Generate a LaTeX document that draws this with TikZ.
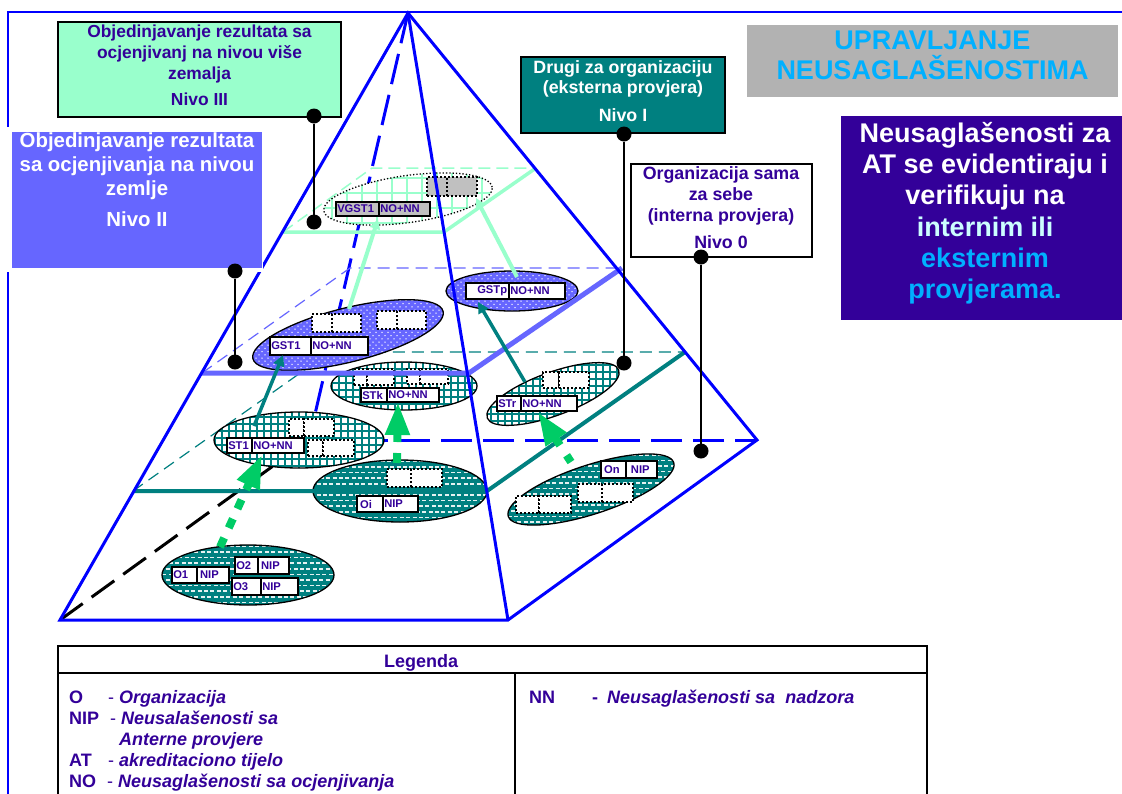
\documentclass[tikz,border=0pt]{standalone}
\usepackage{fontspec}
\setmainfont{Liberation Sans}
\usetikzlibrary{shapes.geometric,arrows.meta}
\definecolor{pblue}{HTML}{0000FF}
\definecolor{ink}{HTML}{330099}
\definecolor{tealc}{HTML}{008080}
\definecolor{mint}{HTML}{99FFCC}
\definecolor{lav}{HTML}{6666FF}
\definecolor{grn}{HTML}{00CC66}
\definecolor{sky}{HTML}{00B0FF}
\definecolor{pale}{HTML}{CCFFFF}
\definecolor{gry}{HTML}{B2B2B2}
\definecolor{cellgry}{HTML}{C0C0C0}
\newcommand{\fs}[2]{\fontsize{#1pt}{#2pt}\selectfont\bfseries}
\newcommand{\patgrid}{\fill[white] (\xa,\ya) rectangle (\xb,\yb);
  \foreach \u in {\xa,\xc,...,\xb} \draw[tealc,line width=2.3pt] (\u,\ya)--(\u,\yb);
  \foreach \v in {\ya,\yc,...,\yb} \draw[tealc,line width=2.3pt] (\xa,\v)--(\xb,\v);}
\newcommand{\patmint}{\fill[white] (\xa,\ya) rectangle (\xb,\yb);
  \foreach \u in {\xa,\xd,...,\xb} \draw[mint,line width=1.2pt] (\u,\ya)--(\u,\yb);
  \foreach \v in {\ya,\yd,...,\yb} \draw[mint,line width=1.2pt] (\xa,\v)--(\xb,\v);}
\newcommand{\patspot}{\fill[tealc] (\xa,\ya) rectangle (\xb,\yb);
  \foreach \v [count=\k] in {\ya,\ye,...,\yb}{\pgfmathsetmacro\ph{mod(\k,2)*3.2}
    \draw[white!90!tealc,line width=1.7pt,dash pattern=on 4pt off 2.4pt,dash phase=\ph pt] (\xa,\v)--(\xb,\v);}}
\newcommand{\patdot}{\fill[lav] (\xa,\ya) rectangle (\xb,\yb);
  \foreach \v [count=\k] in {\ya,\yf,...,\yb}{\pgfmathsetmacro\ph{mod(\k,2)*3}
    \draw[white,line width=1.5pt,line cap=round,dash pattern=on 0pt off 6pt,dash phase=\ph pt] (\xa,\v)--(\xb,\v);}}
\newcommand{\bubble}[8][bubblestyle]{%
  \begin{scope}
    \clip[rotate around={#7:(#3,#4)}] (#3,#4) ellipse [x radius=#5,y radius=#6];
    \pgfmathtruncatemacro\xa{#3-#5-6}\pgfmathtruncatemacro\xb{#3+#5+6}
    \pgfmathtruncatemacro\ya{#4-#5/2-8}\pgfmathtruncatemacro\yb{#4+#5/2+8}
    \pgfmathtruncatemacro\xc{\xa+7}\pgfmathtruncatemacro\yc{\ya+7}
    \pgfmathtruncatemacro\xd{\xa+15}\pgfmathtruncatemacro\yd{\ya+15}
    \pgfmathsetmacro\ye{\ya+5.6}\pgfmathsetmacro\yf{\ya+3.2}
    #8
  \end{scope}
  \node[#1,minimum width=2*#5*1pt,minimum height=2*#6*1pt,rotate=#7] (#2) at (#3,#4) {};}
\newcommand{\cellbox}[7]{% style name x1 x2 y1 y2 text
  \pgfmathsetmacro\cw{#4-#3}\pgfmathsetmacro\ch{#6-#5}\pgfmathsetmacro\ct{#4-#3-2.5}
  \node[#1,minimum width=\cw pt,minimum height=\ch pt] (#2) at (#3,#5) {\makebox[\ct pt][l]{#7}};}
\newcommand{\dual}[9]{% style name x1 xm x2 y1 y2 t1 t2
  \cellbox{#1}{#2l}{#3}{#4}{#6}{#7}{#8}\cellbox{#1}{#2r}{#4}{#5}{#6}{#7}{#9}}
\tikzset{
  bubblestyle/.style={ellipse,draw=black,line width=1.3pt,inner sep=0pt,outer sep=0pt},
  dotbubble/.style={ellipse,draw=black,line width=1.3pt,inner sep=0pt,outer sep=0pt,dash pattern=on 1.3pt off 2pt},
  cell/.style={rectangle,draw=black,line width=1.3pt,fill=white,text=ink,anchor=north west,inner xsep=1pt,inner ysep=0pt,outer sep=0pt,font=\fs{11.2}{12}},
  graycell/.style={cell,fill=cellgry},
  blank/.style={cell,dash pattern=on 2pt off 2pt,line width=1.5pt},
  graydot/.style={blank,fill=cellgry},
  edge/.style={pblue,line width=3pt},
  backedge/.style={pblue,line width=3pt,dash pattern=on 31pt off 11pt},
  blackedge/.style={black,line width=3pt,dash pattern=on 28pt off 11pt},
  tealsolid/.style={tealc,line width=4pt},
  lavsolid/.style={lav,line width=5pt},
  mintsolid/.style={mint,line width=3.5pt},
  tealdash/.style={tealc,line width=1.2pt,dash pattern=on 12pt off 7pt},
  lavdash/.style={lav,line width=1.2pt,dash pattern=on 12pt off 7pt},
  mintdash/.style={mint,line width=1.5pt,dash pattern=on 12pt off 6pt},
  tealarrow/.style={tealc,line width=3.5pt,-{Triangle[length=11pt,width=11pt]}},
  mintarrow/.style={mint,line width=4pt,-{Triangle[length=10pt,width=10pt]}},
  greenarrow/.style={grn,line width=8pt,dash pattern=on 10pt off 11pt,-{Triangle[length=33pt,width=23pt]}},
  dotc/.style={circle,fill=black,inner sep=0pt,minimum size=15pt,outer sep=0pt},
  stem/.style={black,line width=1.6pt},
  callout/.style={rectangle,anchor=north west,outer sep=0pt,inner sep=0pt},
  calltext/.style={anchor=north,align=center,inner sep=0pt},
  legl/.style={anchor=base west,inner sep=0pt,text=ink,font=\fs{18}{20}},
  legt/.style={anchor=base west,inner sep=0pt,text=ink,font=\fs{18}{20}\itshape},
  legline/.style={black,line width=1.5pt}
}
\begin{document}
\begin{tikzpicture}[x=1pt,y=-1pt]
\useasboundingbox (0,0) rectangle (1122,793);
\clip (0,0) rectangle (1122,793);
\fill[white] (0,0) rectangle (1122,793);
% frame
\coordinate (fa) at (8,800);\coordinate (fb) at (8,12);\coordinate (fc) at (1122,12);
\draw[pblue,line width=1.5pt] (fa)--(fb)--(fc);
% pyramid corners
\coordinate (apex) at (408,13);\coordinate (bl) at (60,620);\coordinate (bf) at (508,620);
\coordinate (br) at (757,440);\coordinate (bb) at (309,440);
\draw[blackedge] (bl)--(bb);
\draw[backedge] (apex)--(bb);
\draw[backedge,dash phase=9pt] (br)--(bb);
% level planes, back edges
\coordinate (t1) at (133,491);\coordinate (t2) at (487,491);\coordinate (t3) at (685,352);\coordinate (t4) at (330,352);
\coordinate (l1) at (202,373);\coordinate (l2) at (469,373);\coordinate (l3) at (622,268);\coordinate (l4) at (350,268);
\coordinate (m1) at (283,232);\coordinate (m2) at (444,232);\coordinate (m3) at (536,168);\coordinate (m4) at (372,168);
\draw[tealdash] (t1)--(t4)--(t3);
\draw[lavdash] (l1)--(l4)--(l3);
\draw[mintdash] (m1)--(m4)--(m3);
\draw[mintsolid] (m1)--(m2)--(m3);
% level III bubble
\bubble[dotbubble]{vg}{408}{199}{85}{23.5}{8}{\patmint}
\dual{graydot}{vgd}{427}{447}{477}{177}{196}{}{}
\dual{graycell}{vgst}{336}{379}{430}{202}{216}{VGST1}{NO+NN}
% level II bubbles
\bubble{gst}{348}{335}{98}{27}{14}{\patdot}
\dual{blank}{gd1}{312}{332}{361}{314}{332}{}{}
\dual{blank}{gd2}{377}{397}{426}{311}{329}{}{}
\dual{cell}{gst1}{270}{311}{368}{337}{355}{GST1}{NO+NN}
\bubble{gp}{512}{291}{66}{20}{0}{\patdot}
\dual{cell}{gstp}{466}{509}{565}{283}{299}{\hspace*{10pt}GSTp}{NO+NN}
% level I bubbles
\bubble{sk}{404}{386}{73}{24}{0}{\patgrid}
\dual{blank}{sd1}{354}{367}{394}{369}{385}{}{}
\dual{blank}{sd2}{407}{420}{448}{369}{384}{}{}
\dual{cell}{stk}{361}{387}{439}{388}{402}{STk}{NO+NN}
\bubble{s1}{299}{440}{85}{28}{0}{\patgrid}
\dual{blank}{td1}{289}{304}{334}{419}{436}{}{}
\dual{blank}{td2}{308}{323}{354}{440}{456}{}{}
\dual{cell}{st1}{227}{252}{304}{438}{453}{ST1}{NO+NN}
\bubble{sr}{553}{394}{70}{21.6}{20}{\patgrid}
\dual{blank}{rd1}{543}{559}{589}{372}{388}{}{}
\dual{cell}{str}{497}{521}{577}{396}{411}{STr}{NO+NN}
% level 0 bubbles
\bubble{ob}{248}{575}{86}{30}{0}{\patspot}
\dual{cell}{o1}{172}{197}{229}{567}{583}{O1}{\,NIP}
\dual{cell}{o2}{235}{258}{289}{557}{574}{O2}{\,NIP}
\dual{cell}{o3}{232}{261}{298}{578}{595}{O3}{NIP}
\bubble{oi}{400}{491}{87}{31}{0}{\patspot}
\dual{blank}{id1}{387}{411}{442}{469}{487}{}{}
\dual{cell}{oin}{357}{383}{418}{496}{512}{\,Oi}{NIP}
\bubble{on}{591}{489.5}{87}{24.5}{18}{\patspot}
\dual{blank}{nd1}{578}{602}{633}{484}{502}{}{}
\dual{blank}{nd2}{516}{539}{571}{496}{513}{}{}
\dual{cell}{onn}{601}{626}{657}{461}{478}{\,On}{\,\,NIP}
% solid level edges
\draw[lavsolid] (l1)--(l2)--(l3);
\draw[tealsolid] (t1)--(t2)--(t3);
% front edges
\draw[edge,line join=miter] (bl)--(apex)--(br)--(bf)--cycle;
\draw[edge] (apex)--(bf);
% arrows
\coordinate (a1) at (254,426);\coordinate (a1t) at (283,355);
\coordinate (a2) at (525,382);\coordinate (a2t) at (478,302);
\coordinate (a3) at (349,309);\coordinate (a3t) at (378,219);
\coordinate (a4) at (517,277);\coordinate (a4t) at (476,198);
\draw[tealarrow] (a1)--(a1t);
\draw[tealarrow] (a2)--(a2t);
\draw[mintarrow] (a3)--(a3t);
\draw[mintarrow] (a4)--(a4t);
\coordinate (g1) at (220,547);\coordinate (g1t) at (262,455);
\coordinate (g2) at (397,463);\coordinate (g2t) at (398,402);
\coordinate (g3) at (571,462);\coordinate (g3t) at (538,412);
\draw[greenarrow] (g1)--(g1t);
\draw[greenarrow] (g2)--(g2t);
\draw[greenarrow,dash pattern=on 8pt off 12pt] (g3)--(g3t);
% callouts
\node[callout,fill=mint,draw=black,line width=1.5pt,minimum width=283pt,minimum height=95pt] (n3) at (58,22) {};
\node[calltext,text=ink,font=\fs{17.4}{21}] (n3t) at (199.5,25) {Objedinjavanje rezultata sa\\ocjenjivanj na nivou više\\zemalja\\[5pt]Nivo III};
\node[callout,fill=white,minimum width=256pt,minimum height=145pt] (n2b) at (7,127) {};
\node[callout,fill=lav,minimum width=250pt,minimum height=136pt] (n2) at (12,132) {};
\node[calltext,text=white,font=\fs{20.4}{24}] (n2t) at (137,133) {Objedinjavanje rezultata\\sa ocjenjivanja na nivou\\zemlje\\[7pt]Nivo II};
\node[callout,fill=tealc,draw=black,line width=1.5pt,minimum width=204pt,minimum height=76pt] (n1) at (521,57) {};
\node[calltext,text=white,font=\fs{17.8}{20}] (n1t) at (623,60) {Drugi za organizaciju\\(eksterna provjera)\\[8pt]Nivo I};
\node[callout,fill=white,draw=black,line width=1.5pt,minimum width=181pt,minimum height=93pt] (n0) at (631,164) {};
\node[calltext,text=ink,font=\fs{17.8}{21}] (n0t) at (721,166) {Organizacija sama\\za sebe\\(interna provjera)\\[6pt]Nivo 0};
\node[callout,fill=gry,minimum width=371pt,minimum height=72pt] (title) at (747,25) {};
\node[calltext,text=sky,font=\fs{27}{30}] (titlet) at (932.5,31) {UPRAVLJANJE\\NEUSAGLAŠENOSTIMA};
\node[callout,fill=ink,minimum width=281pt,minimum height=204pt] (note) at (841,116) {};
\node[calltext,text=white,font=\fs{27}{31.3}] (notet) at (985,122) {Neusaglašenosti za\\AT se evidentiraju i\\verifikuju na\\\textcolor{pale}{internim ili}\\\textcolor{sky}{eksternim}\\\textcolor{sky}{provjerama.}};
% leader lines
\node[dotc] (d3a) at (314,116) {};\node[dotc] (d3b) at (314,222) {};
\node[dotc] (d2a) at (235,271) {};\node[dotc] (d2b) at (235,362) {};
\node[dotc] (d1a) at (624,134) {};\node[dotc] (d1b) at (624,363) {};
\node[dotc] (d0a) at (701,257) {};\node[dotc] (d0b) at (701,451) {};
\draw[stem] (d3a)--(d3b);\draw[stem] (d2a)--(d2b);\draw[stem] (d1a)--(d1b);\draw[stem] (d0a)--(d0b);
% legend
\coordinate (la) at (58,800);\coordinate (lb) at (58,646);\coordinate (lc) at (927,646);\coordinate (ld) at (927,800);
\coordinate (le) at (58,673);\coordinate (lf) at (927,673);\coordinate (lg) at (515,673);\coordinate (lh) at (515,800);
\draw[legline] (la)--(lb)--(lc)--(ld);
\draw[legline] (le)--(lf);\draw[legline] (lg)--(lh);
\node[legl] (lt) at (384,667) {Legenda};
\node[legl] (k1) at (69,703) {O};\node[legl,font=\fontsize{18pt}{20pt}\selectfont] (s1d) at (108,703) {-};\node[legt] (v1) at (119,703) {Organizacija};
\node[legl] (k2) at (69,724) {NIP};\node[legl,font=\fontsize{18pt}{20pt}\selectfont] (s2d) at (110,724) {-};\node[legt] (v2) at (121,724) {Neusalašenosti sa};
\node[legt] (v3) at (119,745) {Anterne provjere};
\node[legl] (k4) at (69,766) {AT};\node[legl,font=\fontsize{18pt}{20pt}\selectfont] (s4d) at (108,766) {-};\node[legt] (v4) at (119,766) {akreditaciono tijelo};
\node[legl] (k5) at (69,787) {NO};\node[legl,font=\fontsize{18pt}{20pt}\selectfont] (s5d) at (107,787) {-};\node[legt] (v5) at (118,787) {Neusaglašenosti sa ocjenjivanja};
\node[legl] (k6) at (529,703) {NN};\node[legl] (s6d) at (592,703) {-};\node[legt] (v6) at (607,703) {Neusaglašenosti sa\ \ nadzora};
\end{tikzpicture}
\end{document}
